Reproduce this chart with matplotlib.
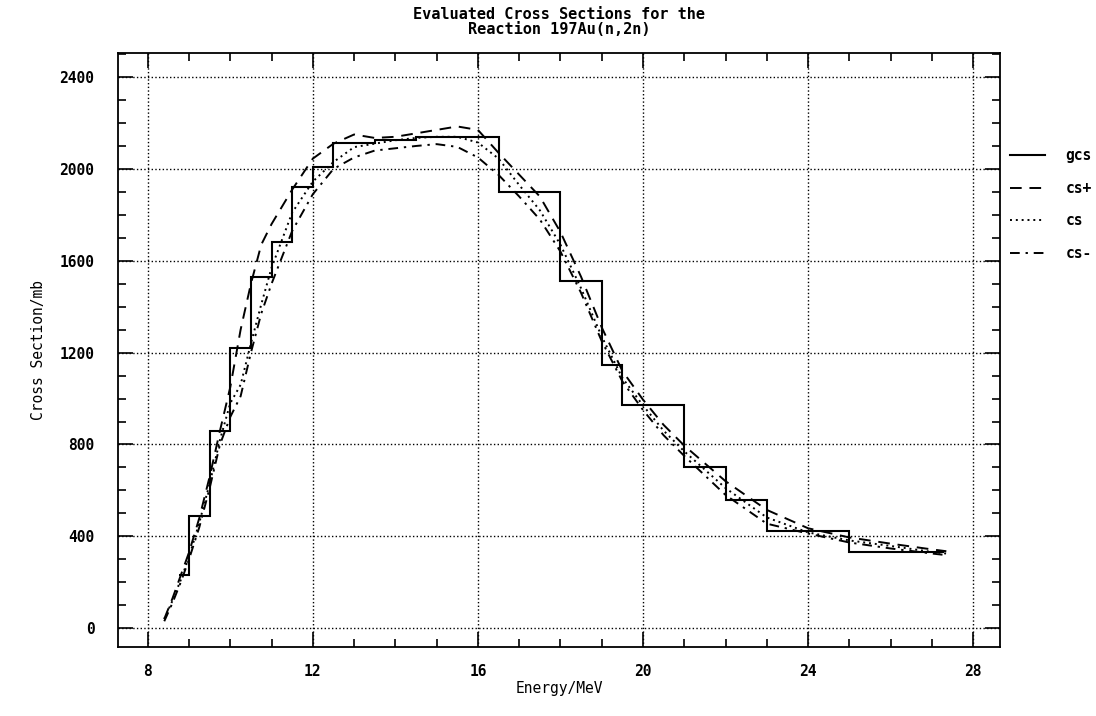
import numpy as np
import matplotlib
matplotlib.use('Agg')
import matplotlib.pyplot as plt
from matplotlib.ticker import MultipleLocator

# %%
# group cross sections (step histogram) -- bin edges in MeV, values in mb
gcs_edges = [8.75, 9.0, 9.5, 10.0, 10.5, 11.0, 11.5, 12.0, 12.5, 13.5, 14.5,
             16.5, 18.0, 19.0, 19.5, 21.0, 22.0, 23.0, 25.0, 27.3]
gcs_vals = [230, 490, 860, 1220, 1530, 1680, 1920, 2010, 2115, 2125, 2140,
            1900, 1510, 1145, 972, 700, 558, 425, 330]

# pointwise evaluated curves
energy = [8.4, 8.6, 8.8, 9.0, 9.25, 9.5, 9.75, 10.0, 10.25, 10.5, 10.75, 11.0,
          11.5, 12.0, 12.5, 13.0, 13.5, 14.0, 14.5, 15.0, 15.5, 16.0, 16.5,
          17.0, 17.5, 18.0, 18.5, 19.0, 19.5, 20.0, 20.5, 21.0, 22.0, 23.0,
          24.0, 25.0, 26.0, 27.0, 27.35]
cs_plus = [40, 130, 230, 330, 480, 660, 860, 1050, 1300, 1500, 1670, 1760,
           1910, 2045, 2110, 2150, 2135, 2140, 2155, 2170, 2185, 2170, 2070,
           1975, 1880, 1725, 1530, 1310, 1120, 995, 885, 795, 640, 515,
           435, 395, 368, 343, 335]
cs = [40, 120, 210, 310, 460, 630, 820, 980, 1060, 1240, 1410, 1570,
      1810, 1945, 2030, 2095, 2110, 2125, 2135, 2140, 2140, 2115, 2045,
      1930, 1820, 1670, 1480, 1270, 1090, 970, 860, 770, 610, 482,
      417, 382, 358, 332, 325]
cs_minus = [30, 110, 200, 300, 440, 610, 800, 920, 1010, 1200, 1370, 1500,
            1730, 1890, 2000, 2050, 2080, 2090, 2100, 2108, 2096, 2050, 1974,
            1880, 1780, 1640, 1460, 1250, 1075, 950, 840, 750, 580, 455,
            412, 373, 347, 325, 318]

# %%
plt.rcParams['font.family'] = 'DejaVu Sans Mono'
plt.rcParams['font.weight'] = 'bold'
plt.rcParams['font.size'] = 10.5

fig = plt.figure(figsize=(10.96, 7.16), dpi=100)
ax = fig.add_axes([0.1077, 0.0964, 0.8047, 0.8296])

ax.stairs(gcs_vals, gcs_edges, baseline=None, color='black', lw=1.5, label='gcs')
ax.plot(energy, cs_plus, color='black', lw=1.4, ls=(0, (6, 4)), label='cs+')
ax.plot(energy, cs, color='black', lw=1.4, ls=(0, (1, 2)), label='cs')
ax.plot(energy, cs_minus, color='black', lw=1.4, ls=(0, (5, 3, 1.2, 3)), label='cs-')

ax.set_xlim(7.28, 28.65)
ax.set_ylim(-82, 2505)
ax.xaxis.set_major_locator(MultipleLocator(4))
ax.xaxis.set_minor_locator(MultipleLocator(1))
ax.yaxis.set_major_locator(MultipleLocator(400))
ax.yaxis.set_minor_locator(MultipleLocator(100))
ax.tick_params(which='both', direction='in', top=True, right=True, width=1.2)
ax.tick_params(which='major', length=11)
ax.tick_params(which='minor', length=5.5)
ax.tick_params(axis='x', pad=12)
ax.tick_params(axis='y', pad=17)
ax.grid(True, which='major', ls=':', color='black', lw=1)
for s in ax.spines.values():
    s.set_linewidth(1.3)

ax.set_title('Evaluated Cross Sections for the\nReaction 197Au(n,2n)',
             fontsize=11, fontweight='bold', pad=14, linespacing=0.95)
ax.set_xlabel('Energy/MeV', labelpad=2)
ax.set_ylabel('Cross Section/mb', labelpad=10)

ax.legend(loc='upper left', bbox_to_anchor=(1.0, 0.857), frameon=False,
          handlelength=2.4, handletextpad=1.4, labelspacing=1.2, borderaxespad=0.3)

plt.savefig('out.png', dpi=100)
